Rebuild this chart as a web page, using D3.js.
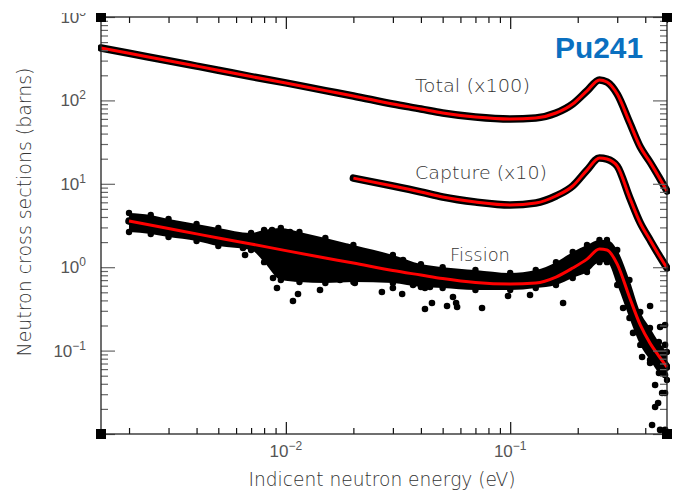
<!DOCTYPE html>
<html>
<head>
<meta charset="utf-8">
<script src="https://cdn.jsdelivr.net/npm/d3@7"></script>
<style>
  body { margin: 0; background: #fff; }
</style>
</head>
<body>
<div id="chart"></div>
<script>
// DATOS (valores ya escalados como se dibujan).
// Total (x100)
const totalEnergy = [0.0015, 0.002, 0.003, 0.004, 0.005, 0.007, 0.01, 0.015, 0.02, 0.03, 0.04, 0.05, 0.07,
                     0.1, 0.13, 0.16, 0.19, 0.22, 0.25, 0.27, 0.3, 0.34, 0.38, 0.42, 0.46, 0.5];
const totalFit = [425, 367, 299, 258, 230, 193, 162, 131, 113, 90.6, 78.9, 70.6, 63.2,
                  59.8, 61.5, 70.6, 90.6, 130, 176, 166, 119, 55.1, 27.6, 18.2, 12.1, 8.2];

// Capture (x10)
const captureEnergy = [0.02, 0.03, 0.04, 0.05, 0.07, 0.1, 0.13, 0.16, 0.19, 0.22, 0.25, 0.27,
                       0.3, 0.34, 0.38, 0.42, 0.46, 0.5];
const captureFit = [11.7, 9.41, 7.98, 6.95, 6.05, 5.57, 5.89, 7.14, 9.41, 14.6, 20.4, 19.8,
                    16.3, 6.95, 3.39, 2.12, 1.40, 0.977];

// Fission
const fissionEnergy = [0.002, 0.003, 0.004, 0.005, 0.007, 0.01, 0.015, 0.02, 0.03, 0.04, 0.05, 0.07,
                       0.1, 0.13, 0.16, 0.19, 0.22, 0.25, 0.27, 0.3, 0.34, 0.38, 0.42, 0.46, 0.5];
const fissionFit = [3.58, 2.91, 2.51, 2.24, 1.90, 1.58, 1.29, 1.12, 0.912, 0.805, 0.731, 0.656,
                    0.629, 0.647, 0.762, 0.977, 1.25, 1.65, 1.61, 1.09, 0.440, 0.203, 0.123, 0.0861, 0.0636];

// Nube de puntos medidos de fision: borde alto y bajo.
const fissionBandEnergy = [0.002, 0.0025, 0.003, 0.004, 0.005, 0.007, 0.008, 0.0095, 0.0115, 0.015, 0.02,
                           0.03, 0.04, 0.05, 0.07, 0.1, 0.13, 0.16, 0.19, 0.22, 0.25, 0.27, 0.3, 0.34,
                           0.38, 0.42, 0.46, 0.5];
const fissionBandHigh = [4.47, 4.23, 3.78, 3.30, 2.95, 2.57, 2.79, 2.95, 2.64, 2.24, 1.85,
                         1.40, 1.09, 1.00, 0.925, 0.852, 0.925, 1.15, 1.52, 1.85, 2.12, 2.12, 1.61, 0.703,
                         0.290, 0.187, 0.127, 0.0962];
const fissionBandLow = [2.64, 2.50, 2.30, 2.06, 1.79, 1.61, 1.15, 0.703, 0.665, 0.647, 0.665,
                        0.647, 0.579, 0.564, 0.533, 0.533, 0.564, 0.612, 0.743, 0.875, 1.15, 1.15, 0.612, 0.246,
                        0.117, 0.0771, 0.0538, 0.0444];

// Puntos sueltos de fision.
const fissionOutE = [0.00913, 0.01076, 0.01133, 0.0142, 0.0268, 0.0300, 0.0330, 0.0417, 0.0448, 0.00658,
                     0.00644, 0.00729, 0.00868, 0.01044, 0.00962, 0.01282, 0.0171, 0.0189, 0.0333, 0.00877,
                     0.01099, 0.01308, 0.01744, 0.0203, 0.0369, 0.0439, 0.0417, 0.0523, 0.0556, 0.0574,
                     0.0580, 0.0749, 0.0978, 0.1226, 0.1721, 0.0839, 0.3186, 0.4203, 0.3873, 0.4658,
                     0.490, 0.4426, 0.4755, 0.4564, 0.4426, 0.4290, 0.4658, 0.490, 0.490, 0.4203,
                     0.4804, 0.490, 0.490, 0.353];
const fissionOutV = [0.563, 0.393, 0.477, 0.533, 0.505, 0.563, 0.477, 0.315, 0.372, 1.40,
                     1.70, 2.30, 2.79, 2.64, 2.57, 2.12, 1.75, 1.75, 1.22, 0.743,
                     0.743, 0.805, 0.703, 0.647, 0.612, 0.579, 0.563, 0.343, 0.439, 0.372,
                     0.333, 0.324, 0.452, 0.464, 0.372, 0.784, 0.324, 0.343, 0.0838, 0.192,
                     0.203, 0.0387, 0.0310, 0.0235, 0.0211, 0.0128, 0.0112, 0.0112, 0.0310, 0.0710,
                     0.0585, 0.0510, 0.117, 0.163];

// Ticks con etiqueta.
const yLabelValues = [0.1, 1, 10, 100, 1000];
const yLabelExp = ["\u22121", "0", "1", "2", "3"];
const xLabelValues = [0.01, 0.1];
const xLabelExp = ["\u22122", "\u22121"];

const seriesLabels = ["Total (x100)", "Capture (x10)", "Fission"];

// MAQUETADO.
const width = 674, height = 492;
const plotLeft = 101, plotRight = 667, plotTop = 17, plotBottom = 434;

const x = d3.scaleLog().domain([0.0015, 0.5]).range([plotLeft, plotRight]);
const y = d3.scaleLog().domain([0.01, 1000]).range([plotBottom, plotTop]);

const svg = d3.select("#chart").append("svg")
  .attr("width", width)
  .attr("height", height)
  .style("font-family", "'Liberation Sans', Arial, sans-serif");

svg.append("defs").append("clipPath").attr("id", "plotClip")
  .append("rect")
  .attr("x", plotLeft - 3).attr("y", plotTop)
  .attr("width", plotRight - plotLeft + 6).attr("height", plotBottom - plotTop + 3);

const plot = svg.append("g").attr("clip-path", "url(#plotClip)");

const line = d3.line()
  .x(d => x(d[0]))
  .y(d => y(d[1]))
  .curve(d3.curveMonotoneX);

const area = d3.area()
  .x(d => x(d[0]))
  .y0(d => y(d[2]))
  .y1(d => y(d[1]))
  .curve(d3.curveMonotoneX);

const totalData = d3.zip(totalEnergy, totalFit);
const captureData = d3.zip(captureEnergy, captureFit);
const fissionData = d3.zip(fissionEnergy, fissionFit);
const fissionBand = d3.zip(fissionBandEnergy, fissionBandHigh, fissionBandLow);
const fissionOut = d3.zip(fissionOutE, fissionOutV);

// Nubes de puntos medidos (negro).
plot.append("path")
  .datum(fissionBand)
  .attr("d", area)
  .attr("fill", "#000");

plot.selectAll(".fedge")
  .data(fissionBand).enter()
  .append("circle")
  .attr("cx", d => x(d[0]))
  .attr("cy", d => y(d[1]))
  .attr("r", 3.2)
  .attr("fill", "#000");

plot.selectAll(".fedge2")
  .data(fissionBand).enter()
  .append("circle")
  .attr("cx", d => x(d[0]))
  .attr("cy", d => y(d[2]))
  .attr("r", 3.2)
  .attr("fill", "#000");

[totalData, captureData, fissionData].forEach(function(s){
  plot.append("path")
    .datum(s)
    .attr("d", line)
    .attr("fill", "none")
    .attr("stroke", "#000")
    .attr("stroke-width", 7.5)
    .attr("stroke-linecap", "round")
    .attr("stroke-linejoin", "round");
});

plot.selectAll(".out")
  .data(fissionOut).enter()
  .append("circle")
  .attr("cx", d => x(d[0]))
  .attr("cy", d => y(d[1]))
  .attr("r", 3.3)
  .attr("fill", "#000");

// Ajustes (rojo).
[totalData, captureData, fissionData].forEach(function(s){
  plot.append("path")
    .datum(s)
    .attr("d", line)
    .attr("fill", "none")
    .attr("stroke", "#ff0000")
    .attr("stroke-width", 3);
});

// EJES.
const xMajor = xLabelValues;
const xMinor = x.ticks().filter(v => xMajor.indexOf(v) < 0);
const yMajor = [0.01, 0.1, 1, 10, 100, 1000];
const yMinor = y.ticks().filter(v => !yMajor.some(m => Math.abs(m - v) / m < 1e-9));

function clean(g){ g.select(".domain").remove(); g.selectAll("text").remove(); }

function ticks(axisFn, scale, values, transform, len, color){
  svg.append("g").attr("transform", transform)
    .call(axisFn(scale).tickValues(values).tickSize(-len).tickFormat(""))
    .call(clean)
    .selectAll("line").attr("stroke", color).attr("stroke-width", 1.2);
}

ticks(d3.axisBottom, x, xMajor, `translate(0,${plotBottom})`, 12, "#111");
ticks(d3.axisBottom, x, xMinor, `translate(0,${plotBottom})`, 6, "#111");
ticks(d3.axisTop, x, xMajor, `translate(0,${plotTop})`, 12, "#111");
ticks(d3.axisTop, x, xMinor, `translate(0,${plotTop})`, 6, "#111");
ticks(d3.axisLeft, y, yMajor, `translate(${plotLeft},0)`, 14, "#666");
ticks(d3.axisLeft, y, yMinor, `translate(${plotLeft},0)`, 7, "#666");
ticks(d3.axisRight, y, yMajor, `translate(${plotRight},0)`, 14, "#666");
ticks(d3.axisRight, y, yMinor, `translate(${plotRight},0)`, 7, "#666");

svg.append("rect")
  .attr("x", plotLeft).attr("y", plotTop)
  .attr("width", plotRight - plotLeft).attr("height", plotBottom - plotTop)
  .attr("fill", "none")
  .attr("stroke", "#222")
  .attr("stroke-width", 1.3);

// Cuadraditos en las esquinas.
[[plotLeft, plotTop], [plotLeft, plotBottom], [plotRight, plotTop], [plotRight, plotBottom]].forEach(function(c){
  svg.append("rect")
    .attr("x", c[0] - 5).attr("y", c[1] - 5)
    .attr("width", 10).attr("height", 10)
    .attr("fill", "#000");
});

// Etiquetas de los ticks.
const yLab = svg.append("g").attr("fill", "#555").attr("font-size", 17);
yLabelValues.forEach(function(v, i){
  const t = yLab.append("text")
    .attr("x", 86)
    .attr("y", y(v) + 6)
    .attr("text-anchor", "end");
  t.append("tspan").text("10");
  t.append("tspan").attr("dy", -7).attr("font-size", 12).text(yLabelExp[i]);
});

const xLab = svg.append("g").attr("fill", "#555").attr("font-size", 17);
xLabelValues.forEach(function(v, i){
  const t = xLab.append("text")
    .attr("x", x(v))
    .attr("y", 457)
    .attr("text-anchor", "middle");
  t.append("tspan").text("10");
  t.append("tspan").attr("dy", -7).attr("font-size", 12).text(xLabelExp[i]);
});

// Titulos de ejes.
svg.append("text")
  .attr("x", 382).attr("y", 486)
  .attr("text-anchor", "middle")
  .attr("font-family", "'DejaVu Sans', sans-serif")
  .attr("font-weight", 300)
  .attr("font-size", 19)
  .attr("fill", "#333")
  .attr("textLength", 267)
  .attr("lengthAdjust", "spacingAndGlyphs")
  .text("Indicent neutron energy (eV)");

svg.append("text")
  .attr("transform", "translate(31,212) rotate(-90)")
  .attr("text-anchor", "middle")
  .attr("font-family", "'DejaVu Sans', sans-serif")
  .attr("font-weight", 300)
  .attr("font-size", 20)
  .attr("fill", "#333")
  .attr("textLength", 289)
  .attr("lengthAdjust", "spacingAndGlyphs")
  .text("Neutron cross sections (barns)");

// Nombres de las series.
const labelPos = [[415, 92, 115], [415, 179, 132], [450, 261, 60]];
seriesLabels.forEach(function(s, i){
  svg.append("text")
    .attr("x", labelPos[i][0]).attr("y", labelPos[i][1])
    .attr("font-family", "'DejaVu Sans', sans-serif")
    .attr("font-weight", 300)
    .attr("font-size", 18)
    .attr("fill", "#333")
    .attr("textLength", labelPos[i][2])
    .attr("lengthAdjust", "spacingAndGlyphs")
    .text(s);
});

svg.append("text")
  .attr("x", 555).attr("y", 58)
  .attr("font-weight", "bold")
  .attr("font-size", 29)
  .attr("fill", "#0a70c0")
  .attr("textLength", 88)
  .attr("lengthAdjust", "spacingAndGlyphs")
  .text("Pu241");

// La imagen original esta recortada por arriba.
svg.append("rect")
  .attr("x", 0).attr("y", 0)
  .attr("width", width).attr("height", 13)
  .attr("fill", "#fff");
</script>
</body>
</html>
